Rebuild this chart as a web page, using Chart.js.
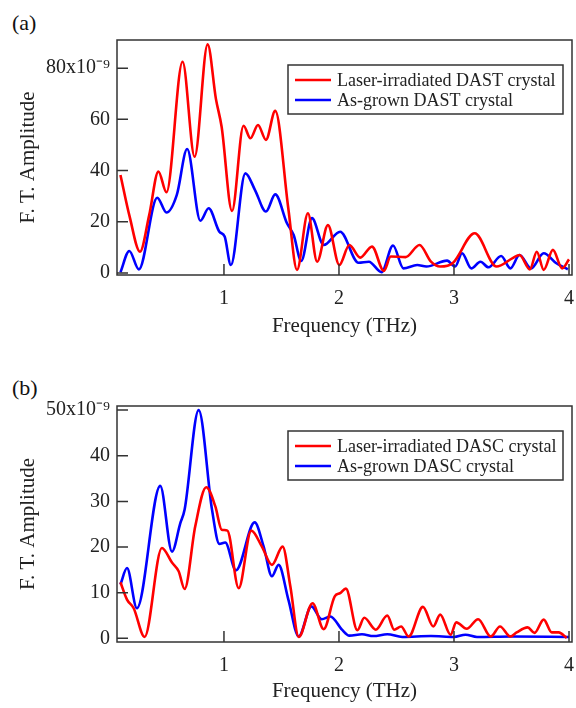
<!DOCTYPE html>
<html>
<head>
<meta charset="utf-8">
<script src="https://cdn.jsdelivr.net/npm/chart.js@4"></script>
<style>
  body { margin: 0; background: #fff; width: 576px; height: 708px; position: relative; overflow: hidden; }
  canvas { position: absolute; left: 0; }
  .panel { position: absolute; left: 12px; font: 22px 'Liberation Serif', 'Times New Roman', serif; line-height: 22px; color: #111; }
</style>
</head>
<body>
<div class="panel" style="top:12px">(a)</div>
<div class="panel" style="top:377px">(b)</div>
<canvas id="chartA" width="576" height="354" style="top:0"></canvas>
<canvas id="chartB" width="576" height="354" style="top:354px"></canvas>
<script>
// frequency ticks (THz)
const freqTicks = [1, 2, 3, 4];
const ampTicksA = [0, 20, 40, 60, 80];
const ampTicksB = [0, 10, 20, 30, 40, 50];

// (a) DAST
const laserDastFreq = [0.10, 0.18, 0.27, 0.35, 0.43, 0.50, 0.64, 0.745, 0.858, 0.93, 0.98, 1.07, 1.17, 1.23, 1.296, 1.365, 1.446, 1.56, 1.635, 1.73, 1.81, 1.904, 2.003, 2.09, 2.185, 2.287, 2.39, 2.45, 2.58, 2.70, 2.80, 2.88, 2.99, 3.18, 3.37, 3.51, 3.57, 3.66, 3.72, 3.78, 3.86, 3.94, 4.00];
const laserDastAmp  = [38.3, 22, 8.3, 22.6, 39.6, 31.5, 82.5, 45.4, 89.3, 68, 57, 24.2, 57.5, 52.6, 57.8, 52, 63.3, 25, 1.2, 23.3, 4.4, 18.7, 3.1, 10.9, 6, 10.3, 0.8, 6.4, 6.2, 10.9, 4.4, 2.5, 3.9, 15.5, 2.5, 5.8, 7, 1.4, 8.3, 1.2, 9, 1.8, 5.3];
const grownDastFreq = [0.10, 0.177, 0.26, 0.42, 0.50, 0.59, 0.68, 0.795, 0.867, 0.96, 1.006, 1.06, 1.186, 1.27, 1.365, 1.446, 1.548, 1.606, 1.672, 1.765, 1.867, 2.01, 2.17, 2.26, 2.37, 2.47, 2.56, 2.68, 2.76, 2.94, 3.01, 3.07, 3.15, 3.23, 3.30, 3.41, 3.49, 3.57, 3.67, 3.78, 3.89, 3.99];
const grownDastAmp  = [0.3, 8.6, 1.4, 29.4, 23.6, 30.5, 48.4, 20.4, 25.3, 16.1, 14.2, 3.1, 38.9, 32.4, 24, 30.7, 19.4, 14.8, 4.7, 21.4, 10.9, 16.1, 4, 4.4, 0.3, 10.7, 1.8, 3.1, 2.5, 4.8, 2.5, 7.7, 1.8, 4.4, 2.2, 6.6, 1.8, 7, 1.8, 7.7, 3.8, 1.4];

// (b) DASC
const laserDascFreq = [0.10, 0.157, 0.215, 0.31, 0.46, 0.548, 0.606, 0.658, 0.75, 0.846, 0.925, 0.98, 1.03, 1.128, 1.237, 1.33, 1.417, 1.51, 1.577, 1.65, 1.77, 1.867, 1.963, 2.01, 2.06, 2.16, 2.22, 2.32, 2.42, 2.48, 2.54, 2.606, 2.73, 2.82, 2.88, 2.97, 3.02, 3.11, 3.21, 3.32, 3.40, 3.49, 3.545, 3.64, 3.70, 3.78, 3.85, 3.91, 3.98];
const laserDascAmp  = [12.3, 8.5, 6.6, 0.3, 19.8, 16.6, 14.7, 10.8, 24.5, 33.1, 28.9, 23.8, 23.6, 11, 23.6, 20.1, 16.1, 20.1, 11.4, 0.3, 7.7, 2, 9.2, 9.9, 10.9, 1.8, 4.5, 1.9, 5, 1.9, 2.6, 0.4, 6.9, 2.6, 5.2, 0.8, 3.5, 2.1, 4.2, 0.4, 2.6, 0.4, 1.3, 2.4, 1.2, 4.1, 1.3, 1.3, 0.1];
const grownDascFreq = [0.10, 0.157, 0.243, 0.446, 0.548, 0.62, 0.658, 0.78, 0.896, 0.96, 1.011, 1.104, 1.267, 1.345, 1.417, 1.475, 1.56, 1.65, 1.76, 1.85, 1.925, 2.026, 2.09, 2.2, 2.3, 2.42, 2.55, 2.8, 3.0, 3.1, 3.2, 3.5, 4.0];
const grownDascAmp  = [11.8, 15.4, 6.6, 33.4, 19, 25.2, 28.2, 50, 28.2, 20.7, 21, 14.9, 25.4, 20.1, 13.6, 16.1, 8.5, 0.4, 7, 4.2, 4.8, 1.9, 0.6, 0.9, 0.5, 0.9, 0.3, 0.5, 0.3, 0.8, 0.3, 0.4, 0.3];

const SERIF = "'Liberation Serif', 'Times New Roman', serif";
Chart.defaults.font.family = SERIF;
Chart.defaults.color = '#222';

const pts = (xs, ys) => xs.map((x, i) => ({ x: x, y: ys[i] }));

// box around the plot + inward tick marks
const frame = {
  id: 'frame',
  afterDraw(chart) {
    const { ctx, chartArea: a, scales } = chart;
    ctx.save();
    ctx.strokeStyle = '#333';
    ctx.lineWidth = 1.5;
    ctx.strokeRect(a.left, a.top, a.right - a.left, a.bottom - a.top);
    ctx.beginPath();
    scales.x.ticks.forEach(t => {
      const px = scales.x.getPixelForValue(t.value);
      ctx.moveTo(px, a.bottom);
      ctx.lineTo(px, a.bottom - 11);
    });
    scales.y.ticks.forEach(t => {
      const py = scales.y.getPixelForValue(t.value);
      ctx.moveTo(a.left, py);
      ctx.lineTo(a.left + 11, py);
    });
    ctx.stroke();
    ctx.restore();
  }
};

// legend drawn in a box inside the plot
const boxLegend = {
  id: 'boxLegend',
  afterDatasetsDraw(chart) {
    const { ctx, chartArea: a } = chart;
    const w = 275, h = 49;
    const x0 = a.right - 9 - w, y0 = a.top + 25;
    ctx.save();
    ctx.fillStyle = '#fff';
    ctx.fillRect(x0, y0, w, h);
    ctx.strokeStyle = '#333';
    ctx.lineWidth = 1.5;
    ctx.strokeRect(x0, y0, w, h);
    ctx.font = '18px ' + SERIF;
    ctx.textBaseline = 'middle';
    chart.data.datasets.forEach((ds, i) => {
      const y = y0 + 15 + i * 20;
      ctx.strokeStyle = ds.borderColor;
      ctx.lineWidth = 2.5;
      ctx.beginPath();
      ctx.moveTo(x0 + 7, y);
      ctx.lineTo(x0 + 43, y);
      ctx.stroke();
      ctx.fillStyle = '#222';
      ctx.fillText(ds.label, x0 + 49, y + 1);
    });
    ctx.restore();
  }
};

function makeChart(id, datasets, yMax, yTicks, topLabel, pad) {
  return new Chart(document.getElementById(id), {
    type: 'line',
    data: {
      datasets: datasets.map(d => ({
        label: d.label,
        data: d.data,
        borderColor: d.color,
        borderWidth: 2.6,
        pointRadius: 0,
        fill: false,
        cubicInterpolationMode: 'monotone'
      }))
    },
    options: {
      responsive: false,
      animation: false,
      devicePixelRatio: 1,
      layout: { padding: pad },
      plugins: { legend: { display: false }, tooltip: { enabled: false } },
      scales: {
        x: {
          type: 'linear',
          min: 0.07,
          max: 4.026,
          afterBuildTicks: s => { s.ticks = freqTicks.map(v => ({ value: v })); },
          afterFit: s => { s.height = 65; s.paddingLeft = 0; s.paddingRight = 0; },
          grid: { display: false, drawTicks: false },
          border: { display: false },
          ticks: { font: { size: 20 }, padding: 12, maxRotation: 0, autoSkip: false, callback: v => String(v) },
          title: { display: true, text: 'Frequency (THz)', font: { size: 21 }, padding: { top: 0, bottom: pad.bottom > 5 ? 1 : 3 } }
        },
        y: {
          min: -0.8,
          max: yMax,
          afterBuildTicks: s => { s.ticks = yTicks.map(v => ({ value: v })); },
          afterFit: s => { s.width = 117; s.paddingTop = 0; s.paddingBottom = 0; },
          grid: { display: false, drawTicks: false },
          border: { display: false },
          ticks: { font: { size: 20 }, padding: 7, callback: v => v === topLabel ? v + 'x10\u207B\u2079' : String(v) },
          title: { display: true, text: 'F. T. Amplitude', font: { size: 21 }, padding: { top: 16, bottom: 0 } }
        }
      }
    },
    plugins: [frame, boxLegend]
  });
}

makeChart('chartA', [
  { label: 'Laser-irradiated DAST crystal', data: pts(laserDastFreq, laserDastAmp), color: '#ff0000' },
  { label: 'As-grown DAST crystal', data: pts(grownDastFreq, grownDastAmp), color: '#0000ff' }
], 91, ampTicksA, 80, { top: 40, right: 4, left: 0, bottom: 14 });

makeChart('chartB', [
  { label: 'Laser-irradiated DASC crystal', data: pts(laserDascFreq, laserDascAmp), color: '#ff0000' },
  { label: 'As-grown DASC crystal', data: pts(grownDascFreq, grownDascAmp), color: '#0000ff' }
], 50.9, ampTicksB, 50, { top: 52, right: 4, left: 0, bottom: 1 });
</script>
</body>
</html>
